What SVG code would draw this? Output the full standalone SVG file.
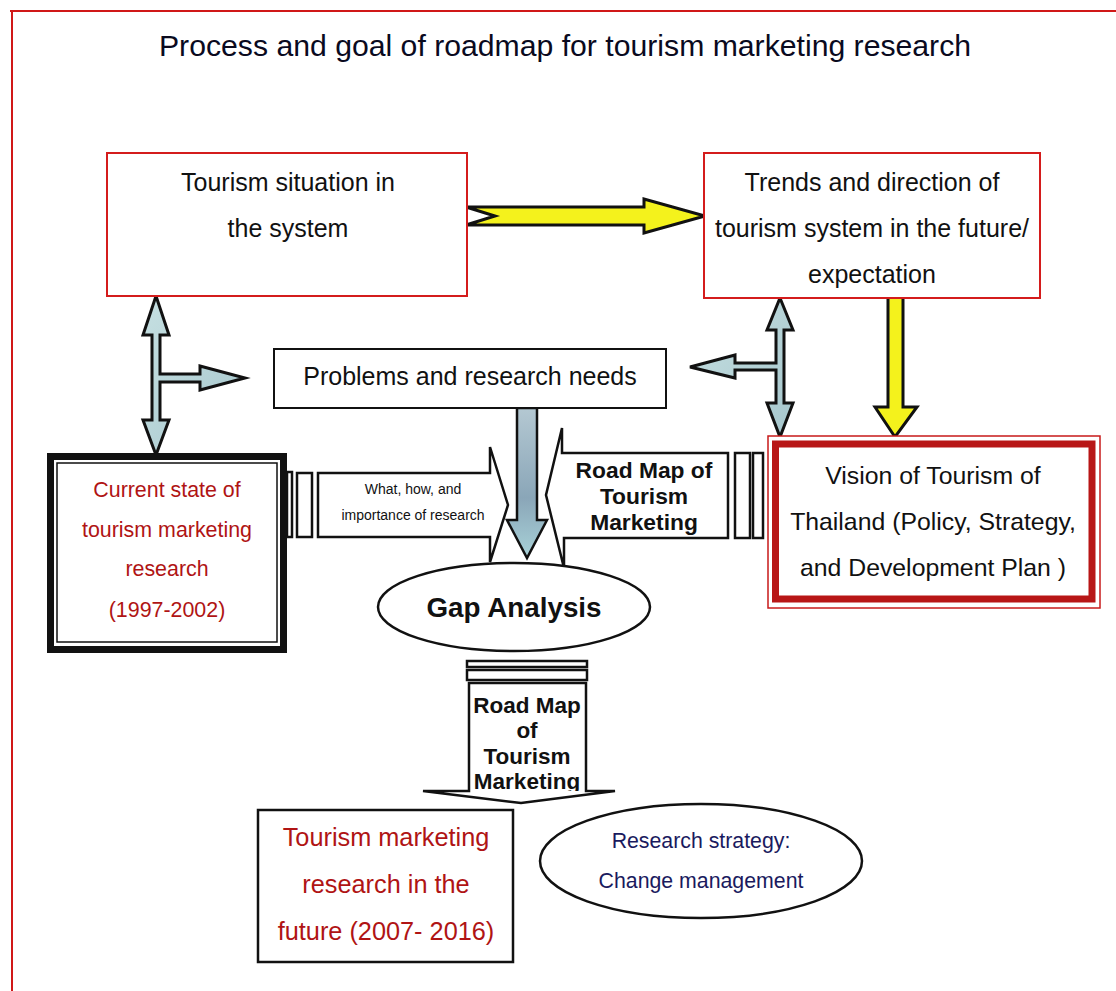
<svg xmlns="http://www.w3.org/2000/svg" width="1116" height="991" viewBox="0 0 1116 991">
  <style>
    .txt { font-family: "Liberation Sans", Arial, sans-serif; fill: #111; text-anchor: middle; }
    .bold { font-weight: bold; }
    .red-txt { fill: #b01414; }
    .navy-txt { fill: #1a1a5e; }
    .box-red { fill: #fff; stroke: #d41c1c; stroke-width: 2; }
    .box-black { fill: #fff; stroke: #111; stroke-width: 2; }
    .yellow { fill: #f4f21c; stroke: #111; stroke-width: 3; stroke-linejoin: miter; }
    .cyan { fill: url(#cyanFill); stroke: #111; stroke-width: 3; stroke-linejoin: miter; }
    .cyan-dark { fill: url(#cyanDark); stroke: #111; stroke-width: 2.5; stroke-linejoin: miter; }
    .outline { fill: #fff; stroke: #111; stroke-width: 2.5; stroke-linejoin: miter; }
  </style>
  <defs>
    <linearGradient id="cyanFill" x1="0" y1="0" x2="1" y2="1">
      <stop offset="0" stop-color="#c6e0e2"/>
      <stop offset="1" stop-color="#a6c6cc"/>
    </linearGradient>
    <linearGradient id="cyanDark" x1="0" y1="0" x2="0" y2="1">
      <stop offset="0" stop-color="#b4c8d2"/>
      <stop offset="0.6" stop-color="#8aa6b8"/>
      <stop offset="1" stop-color="#a8d2d8"/>
    </linearGradient>
    <clipPath id="roadmapBodyClip">
      <rect x="469" y="683" width="117" height="108"/>
    </clipPath>
  </defs>

  <rect width="1116" height="991" fill="#fff"/>

  <!-- page frame -->
  <g id="frame" stroke="#d01818" stroke-width="2" fill="none">
    <line x1="10" y1="11" x2="1116" y2="11"/>
    <line x1="12" y1="10" x2="12" y2="991"/>
  </g>

  <!-- title -->
  <text id="title" class="txt" x="565" y="56" font-size="30.2" style="fill:#0a0a1e">Process and goal of roadmap for tourism marketing research</text>

  <!-- connectors -->
  <g id="connectors">
    <!-- situation -> trends -->
    <path class="yellow" d="M466,207 L644,207 L644,199 L705,216 L644,233 L644,225 L466,225 L495,216 Z"/>
    <!-- trends -> vision -->
    <path class="yellow" d="M888,297 L903,297 L903,407 L917,407 L895,437 L875,407 L888,407 Z"/>
    <!-- situation <-> current state, branch to problems -->
    <path class="cyan" d="M156,296 L169,335 L160,335 L160,374 L200,374 L200,366 L245,378 L200,390 L200,382 L160,382 L160,420 L169,420 L156,455 L143,420 L152,420 L152,335 L143,335 Z"/>
    <!-- trends <-> vision, branch to problems -->
    <path class="cyan" d="M780,298 L793,330 L784,330 L784,403 L793,403 L780,437 L767,403 L776,403 L776,370 L735,370 L735,378 L690,367 L735,355 L735,363 L776,363 L776,330 L767,330 Z"/>

    <!-- current state -> gap analysis -->
    <rect class="outline" x="287" y="472" width="5" height="65" stroke-width="2"/>
    <rect class="outline" x="297" y="473" width="15" height="64" stroke-width="2"/>
    <path class="outline" d="M318,473 L490,473 L490,447 L508,505 L490,562 L490,537 L318,537 Z"/>
    <text class="txt" x="413" y="494" font-size="14">What, how, and</text>
    <text class="txt" x="413" y="520" font-size="14">importance of research</text>

    <!-- vision -> gap analysis -->
    <rect class="outline" x="735" y="453" width="15" height="85" stroke-width="2"/>
    <rect class="outline" x="753" y="453" width="10" height="85" stroke-width="2"/>
    <path class="outline" d="M728,453 L562,453 L562,428 L546,495 L564,568 L564,538 L728,538 Z"/>
    <text class="txt bold" x="644" y="478" font-size="22.8">Road Map of</text>
    <text class="txt bold" x="644" y="504" font-size="22.8">Tourism</text>
    <text class="txt bold" x="644" y="530" font-size="22.8">Marketing</text>

    <!-- problems -> gap analysis -->
    <path class="cyan-dark" d="M517,408 L537,408 L537,520 L547,520 L527,558 L507,520 L517,520 Z"/>

    <!-- gap analysis -> future research -->
    <rect class="outline" x="467" y="661" width="120" height="6" stroke-width="2"/>
    <rect class="outline" x="467" y="670" width="120" height="10" stroke-width="2"/>
    <path class="outline" d="M469,683 L586,683 L586,791 L615,791 L521,803 L423,791 L469,791 Z"/>
    <g clip-path="url(#roadmapBodyClip)">
      <text class="txt bold" x="527" y="713" font-size="22.5">Road Map</text>
      <text class="txt bold" x="527" y="738" font-size="22.5">of</text>
      <text class="txt bold" x="527" y="764" font-size="22.5">Tourism</text>
      <text class="txt bold" x="527" y="789" font-size="22.5">Marketing</text>
    </g>
  </g>

  <!-- nodes -->
  <g id="node-situation">
    <rect class="box-red" x="107" y="153" width="360" height="143"/>
    <text class="txt" x="288" y="191" font-size="25">Tourism situation in</text>
    <text class="txt" x="288" y="237" font-size="25">the system</text>
  </g>

  <g id="node-trends">
    <rect class="box-red" x="704" y="153" width="336" height="145"/>
    <text class="txt" x="872" y="191" font-size="25">Trends and direction of</text>
    <text class="txt" x="872" y="237" font-size="25">tourism system in the future/</text>
    <text class="txt" x="872" y="283" font-size="25">expectation</text>
  </g>

  <g id="node-problems">
    <rect class="box-black" x="274" y="349" width="392" height="59"/>
    <text class="txt" x="470" y="385" font-size="25">Problems and research needs</text>
  </g>

  <g id="node-current">
    <rect x="50.5" y="456.5" width="233" height="193" fill="#fff" stroke="#111" stroke-width="7"/>
    <rect x="57" y="463" width="220" height="179" fill="none" stroke="#111" stroke-width="1.5"/>
    <text class="txt red-txt" x="167" y="497" font-size="21.4">Current state of</text>
    <text class="txt red-txt" x="167" y="537" font-size="21.4">tourism marketing</text>
    <text class="txt red-txt" x="167" y="576" font-size="21.4">research</text>
    <text class="txt red-txt" x="167" y="617" font-size="21.4">(1997-2002)</text>
  </g>

  <g id="node-vision">
    <rect x="768" y="436" width="332" height="172" fill="#fff" stroke="#c81a1a" stroke-width="1.5"/>
    <rect x="775.5" y="444" width="316.5" height="155" fill="none" stroke="#b81616" stroke-width="7"/>
    <text class="txt" x="933" y="484" font-size="24.8">Vision of Tourism of</text>
    <text class="txt" x="933" y="530" font-size="24.8">Thailand (Policy, Strategy,</text>
    <text class="txt" x="933" y="576" font-size="24.8">and Development Plan )</text>
  </g>

  <g id="node-gap">
    <ellipse cx="514" cy="607" rx="136" ry="44" fill="#fff" stroke="#111" stroke-width="2.5"/>
    <text class="txt bold" x="514" y="617" font-size="27.8">Gap Analysis</text>
  </g>

  <g id="node-future">
    <rect x="258" y="810" width="255" height="152" fill="#fff" stroke="#111" stroke-width="2.5"/>
    <text class="txt red-txt" x="386" y="846" font-size="25.3">Tourism marketing</text>
    <text class="txt red-txt" x="386" y="893" font-size="25.3">research in the</text>
    <text class="txt red-txt" x="386" y="940" font-size="25.3">future (2007- 2016)</text>
  </g>

  <g id="node-strategy">
    <ellipse cx="701" cy="861" rx="161" ry="57" fill="#fff" stroke="#111" stroke-width="2.5"/>
    <text class="txt navy-txt" x="701" y="848" font-size="21.3">Research strategy:</text>
    <text class="txt navy-txt" x="701" y="888" font-size="21.3">Change management</text>
  </g>
</svg>
